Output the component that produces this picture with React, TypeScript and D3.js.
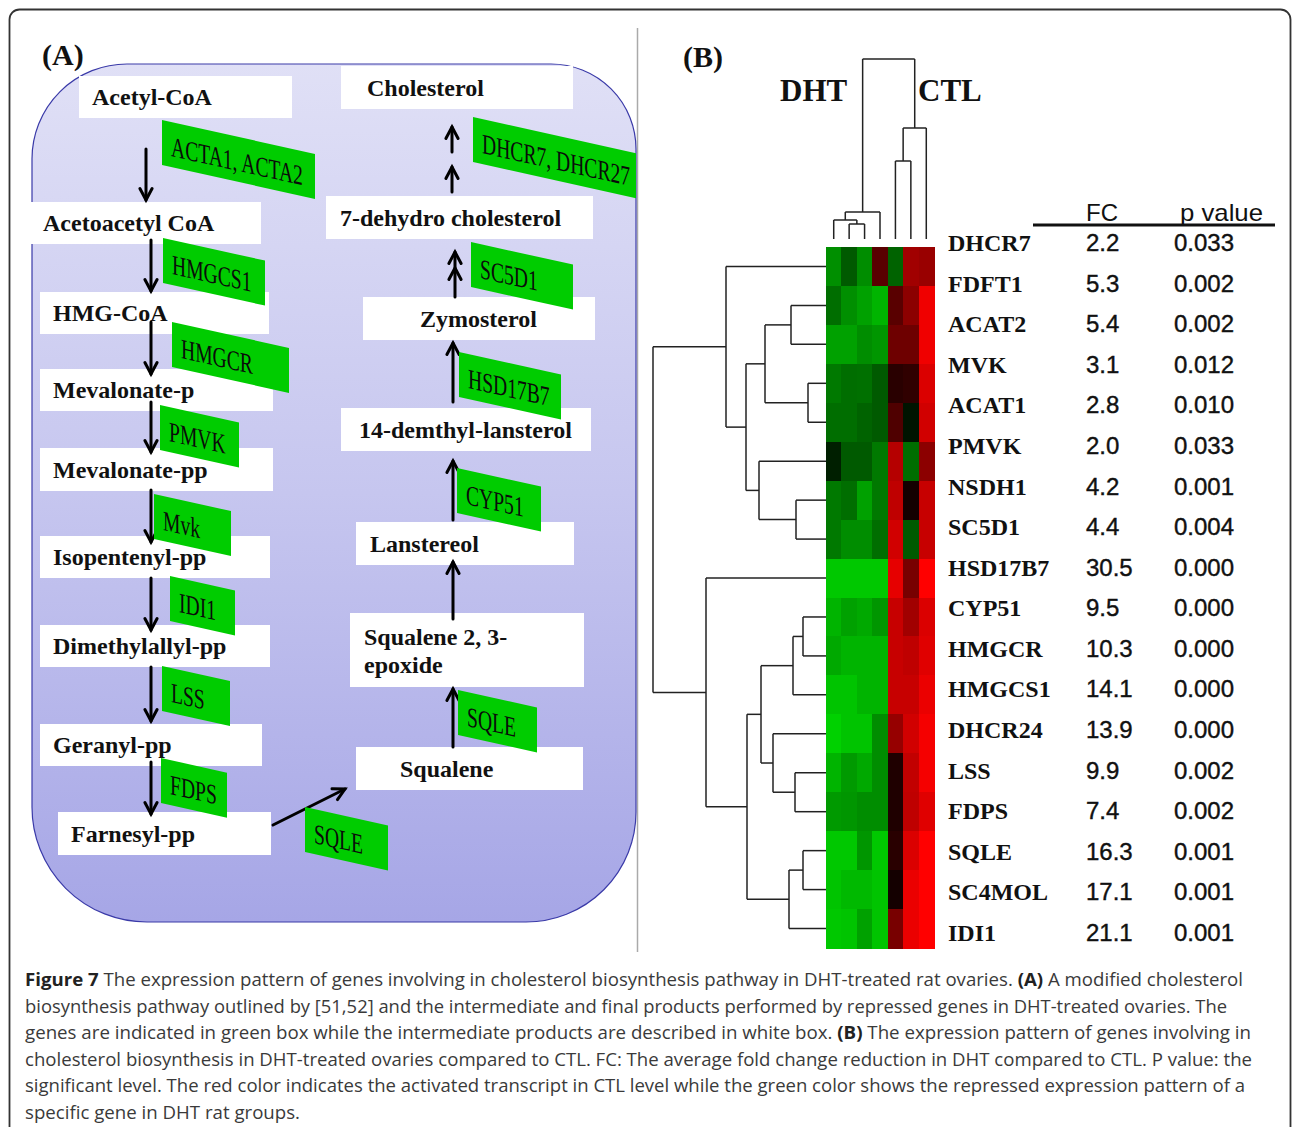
import React from "react";
import * as d3 from "d3";

// ---------- Panel B data ----------
const genes = [
  "DHCR7", "FDFT1", "ACAT2", "MVK", "ACAT1", "PMVK", "NSDH1", "SC5D1", "HSD17B7",
  "CYP51", "HMGCR", "HMGCS1", "DHCR24", "LSS", "FDPS", "SQLE", "SC4MOL", "IDI1",
];
const foldChange = [2.2, 5.3, 5.4, 3.1, 2.8, 2.0, 4.2, 4.4, 30.5, 9.5, 10.3, 14.1, 13.9, 9.9, 7.4, 16.3, 17.1, 21.1];
const pValues = [
  "0.033", "0.002", "0.002", "0.012", "0.010", "0.033", "0.001", "0.004", "0.000",
  "0.000", "0.000", "0.000", "0.000", "0.002", "0.002", "0.001", "0.001", "0.001",
];
const sampleGroups = ["DHT", "DHT", "DHT", "DHT", "CTL", "CTL", "CTL"];
// standardized expression per gene (rows) and sample (columns); negative = green, positive = red
const expression: number[][] = [
  [-0.65, -0.41, -0.64, 0.35, -0.45, 0.63, 0.6],
  [-0.5, -0.65, -0.73, -0.82, 0.35, 0.55, 0.94],
  [-0.73, -0.73, -0.64, -0.68, 0.43, 0.43, 0.94],
  [-0.55, -0.5, -0.51, -0.41, 0.16, 0.19, 0.86],
  [-0.5, -0.5, -0.45, -0.41, 0.31, -0.09, 0.82],
  [-0.14, -0.41, -0.41, -0.55, 0.71, -0.5, 0.55],
  [-0.55, -0.5, -0.73, -0.55, 0.75, 0.08, 0.78],
  [-0.55, -0.64, -0.64, -0.5, 0.82, -0.41, 0.78],
  [-0.91, -0.91, -0.91, -0.91, 0.9, 0.47, 1.0],
  [-0.82, -0.73, -0.77, -0.68, 0.78, 0.63, 0.86],
  [-0.77, -0.82, -0.82, -0.82, 0.78, 0.75, 0.88],
  [-0.89, -0.89, -0.82, -0.82, 0.78, 0.78, 0.92],
  [-0.95, -0.89, -0.89, -0.64, 0.59, 0.82, 0.96],
  [-0.82, -0.7, -0.77, -0.64, 0.12, 0.76, 0.96],
  [-0.7, -0.68, -0.64, -0.64, 0.12, 0.75, 0.88],
  [-0.91, -0.91, -0.68, -0.91, 0.16, 0.86, 1.0],
  [-0.89, -0.84, -0.84, -0.89, 0.08, 0.92, 1.0],
  [-0.91, -0.89, -0.73, -0.89, 0.47, 0.92, 1.0],
];

// hierarchical clustering: [height, left, right]; leaves are indices
type Tree = number | [number, Tree, Tree];
const rowTree: Tree = [173,
  [100, 0, [80, [61, [35, 1, 2], [18, 3, 4]], [67, 5, [30, 6, 7]]]],
  [120, 8, [79, [65, [33, [23, 9, 10], 11], [53, 12, [31, 13, 14]]], [37, [23, 15, 16], 17]]],
];
const colTree: Tree = [180, [27, [19, 0, [15, 1, 2]], 3], [111, [78, 4, 5], 6]];

// ---------- Panel A data ----------
const leftSteps = [
  "Acetyl-CoA", "Acetoacetyl CoA", "HMG-CoA", "Mevalonate-p", "Mevalonate-pp",
  "Isopentenyl-pp", "Dimethylallyl-pp", "Geranyl-pp", "Farnesyl-pp",
];
const rightSteps = [
  "Squalene", "Squalene 2, 3-|epoxide", "Lanstereol", "14-demthyl-lansterol",
  "Zymosterol", "7-dehydro cholesterol", "Cholesterol",
];
const enzymes = [
  "ACTA1, ACTA2", "HMGCS1", "HMGCR", "PMVK", "Mvk", "IDI1", "LSS", "FDPS",
  "SQLE", "SQLE", "CYP51", "HSD17B7", "SC5D1", "DHCR7, DHCR27",
];

const captionLines: { parts: [string, boolean][]; len: number }[] = [
  { parts: [["Figure 7", true], [" The expression pattern of genes involving in cholesterol biosynthesis pathway in DHT-treated rat ovaries. ", false], ["(A)", true], [" A modified cholesterol", false]], len: 1218 },
  { parts: [["biosynthesis pathway outlined by [51,52] and the intermediate and final products performed by repressed genes in DHT-treated ovaries. The", false]], len: 1202 },
  { parts: [["genes are indicated in green box while the intermediate products are described in white box. ", false], ["(B)", true], [" The expression pattern of genes involving in", false]], len: 1226 },
  { parts: [["cholesterol biosynthesis in DHT-treated ovaries compared to CTL. FC: The average fold change reduction in DHT compared to CTL. P value: the", false]], len: 1227 },
  { parts: [["significant level. The red color indicates the activated transcript in CTL level while the green color shows the repressed expression pattern of a", false]], len: 1220 },
  { parts: [["specific gene in DHT rat groups.", false]], len: 275 },
];

// ---------- layout ----------
const SERIF = "'Liberation Serif', 'Times New Roman', serif";
const SANS = "'Liberation Sans', Arial, sans-serif";

const leftBoxes = [
  { x: 79, y: 76, w: 213, h: 42, tx: 92 },
  { x: 30, y: 202, w: 231, h: 42, tx: 43 },
  { x: 40, y: 292, w: 229, h: 42, tx: 53 },
  { x: 40, y: 369, w: 233, h: 42, tx: 53 },
  { x: 40, y: 448, w: 233, h: 43, tx: 53 },
  { x: 40, y: 536, w: 230, h: 42, tx: 53 },
  { x: 40, y: 625, w: 230, h: 42, tx: 53 },
  { x: 40, y: 724, w: 222, h: 42, tx: 53 },
  { x: 58, y: 812, w: 213, h: 43, tx: 71 },
];
const rightBoxes = [
  { x: 356, y: 747, w: 227, h: 43, tx: 400 },
  { x: 350, y: 613, w: 234, h: 74, tx: 364 },
  { x: 356, y: 522, w: 218, h: 43, tx: 370 },
  { x: 341, y: 408, w: 250, h: 43, tx: 359 },
  { x: 363, y: 297, w: 232, h: 43, tx: 420 },
  { x: 326, y: 196, w: 267, h: 43, tx: 340 },
  { x: 341, y: 66, w: 232, h: 43, tx: 367 },
];
const enzymeTags = [
  { x: 162, y: 120, w: 153 },
  { x: 163, y: 238, w: 102 },
  { x: 172, y: 322, w: 117 },
  { x: 160, y: 405, w: 79 },
  { x: 154, y: 494, w: 77 },
  { x: 170, y: 576, w: 65 },
  { x: 162, y: 666, w: 68 },
  { x: 161, y: 758, w: 66 },
  { x: 305, y: 807, w: 83 },
  { x: 458, y: 690, w: 79 },
  { x: 457, y: 468, w: 84 },
  { x: 459, y: 352, w: 102 },
  { x: 471, y: 242, w: 102 },
  { x: 473, y: 117, w: 163 },
];
const arrows: { x1: number; y1: number; x2: number; y2: number; heads: number[] }[] = [
  { x1: 146, y1: 149, x2: 146, y2: 200, heads: [0] },
  { x1: 151, y1: 240, x2: 151, y2: 291, heads: [0] },
  { x1: 151, y1: 322, x2: 151, y2: 374, heads: [0] },
  { x1: 151, y1: 402, x2: 151, y2: 452, heads: [0] },
  { x1: 151, y1: 490, x2: 151, y2: 542, heads: [0] },
  { x1: 151, y1: 578, x2: 151, y2: 630, heads: [0] },
  { x1: 151, y1: 667, x2: 151, y2: 721, heads: [0] },
  { x1: 151, y1: 762, x2: 151, y2: 814, heads: [0] },
  { x1: 273, y1: 825, x2: 345, y2: 789, heads: [0] },
  { x1: 453, y1: 747, x2: 453, y2: 689, heads: [0] },
  { x1: 453, y1: 619, x2: 453, y2: 562, heads: [0] },
  { x1: 453, y1: 520, x2: 453, y2: 461, heads: [0] },
  { x1: 453, y1: 402, x2: 453, y2: 343, heads: [0] },
  { x1: 455, y1: 297, x2: 455, y2: 252, heads: [0, 16] },
  { x1: 452, y1: 192, x2: 452, y2: 167, heads: [0] },
  { x1: 452, y1: 152, x2: 452, y2: 127, heads: [0] },
];

function Arrow({ x1, y1, x2, y2, heads }: { x1: number; y1: number; x2: number; y2: number; heads: number[] }) {
  const a = Math.atan2(y2 - y1, x2 - x1);
  const L = 13;
  const t = (28 * Math.PI) / 180;
  return (
    <g stroke="#000" strokeWidth={3} fill="none" strokeLinecap="round">
      <line x1={x1} y1={y1} x2={x2} y2={y2} />
      {heads.map((back, i) => {
        const px = x2 - back * Math.cos(a);
        const py = y2 - back * Math.sin(a);
        return (
          <path
            key={i}
            d={`M${px - L * Math.cos(a - t)},${py - L * Math.sin(a - t)} L${px},${py} L${px - L * Math.cos(a + t)},${py - L * Math.sin(a + t)}`}
          />
        );
      })}
    </g>
  );
}

type Seg = [number, number, number, number]; // h1, p1, h2, p2
function dendro(node: Tree, segs: Seg[], pos: (i: number) => number): { p: number; h: number } {
  if (typeof node === "number") return { p: pos(node), h: 0 };
  const [h, l, r] = node;
  const a = dendro(l, segs, pos);
  const b = dendro(r, segs, pos);
  segs.push([a.h, a.p, h, a.p], [b.h, b.p, h, b.p], [h, a.p, h, b.p]);
  return { p: (a.p + b.p) / 2, h };
}

export default function App() {
  const W = 1292, H = 1127;

  // heatmap scales
  const xCol = d3.scaleBand<number>().domain(d3.range(sampleGroups.length)).range([826, 934]);
  const yRow = d3.scaleBand<number>().domain(d3.range(genes.length)).range([247, 948]);
  const color = d3.scaleLinear<string>().domain([-1, 0, 1]).range(["#00dc00", "#000000", "#ff0000"]);
  const yLabel = d3.scalePoint<string>().domain(genes).range([251, 941]);
  const rowH = d3.scaleLinear().domain([0, 173]).range([826, 653]);
  const colH = d3.scaleLinear().domain([0, 180]).range([239, 59]);

  const rowSegs: Seg[] = [];
  dendro(rowTree, rowSegs, (i) => (yRow(i) as number) + yRow.bandwidth() / 2);
  const colSegs: Seg[] = [];
  dendro(colTree, colSegs, (i) => (xCol(i) as number) + xCol.bandwidth() / 2);

  // panel A rounded outline
  const px0 = 32, px1 = 636, py0 = 64, py1 = 922;
  const rTL = 95, rTR = 85, rBR = 110, rBL = 115;
  const panelPath =
    `M${px0 + rTL},${py0} L${px1 - rTR},${py0} A${rTR},${rTR} 0 0 1 ${px1},${py0 + rTR} ` +
    `L${px1},${py1 - rBR} A${rBR},${rBR} 0 0 1 ${px1 - rBR},${py1} L${px0 + rBL},${py1} ` +
    `A${rBL},${rBL} 0 0 1 ${px0},${py1 - rBL} L${px0},${py0 + rTL} A${rTL},${rTL} 0 0 1 ${px0 + rTL},${py0} Z`;

  const boxText = (label: string, b: { x: number; y: number; w: number; h: number; tx: number }, key: string) => {
    const lines = label.split("|");
    return (
      <g key={key}>
        <rect x={b.x} y={b.y} width={b.w} height={b.h} fill="#fff" />
        {lines.map((ln, i) => (
          <text
            key={i}
            x={b.tx}
            y={lines.length === 1 ? b.y + b.h / 2 + 8 : b.y + 32 + i * 28}
            fontFamily={SERIF}
            fontWeight="bold"
            fontSize={24}
            fill="#111"
          >
            {ln}
          </text>
        ))}
      </g>
    );
  };

  return (
    <svg width={W} height={H} style={{ position: "absolute", left: 0, top: 0, background: "#fff" }}>
      <defs>
        <linearGradient id="panelFill" x1="0" y1="0" x2="0" y2="1">
          <stop offset="0" stopColor="#e0e0f6" />
          <stop offset="0.5" stopColor="#c6c6ef" />
          <stop offset="1" stopColor="#a6a6e6" />
        </linearGradient>
      </defs>
      <rect x={0} y={0} width={W} height={H} fill="#fff" />
      <rect x={9.5} y={9.5} width={1281} height={1200} rx={10} fill="none" stroke="#333" strokeWidth={1.8} />
      <line x1={637.5} y1={28} x2={637.5} y2={952} stroke="#aaa" strokeWidth={1.5} />

      {/* ---------- Panel A ---------- */}
      <text x={42} y={65} fontFamily={SERIF} fontWeight="bold" fontSize={30} fill="#111">(A)</text>
      <path d={panelPath} fill="url(#panelFill)" stroke="#3a3aa8" strokeWidth={1.2} />
      {leftSteps.map((s, i) => boxText(s, leftBoxes[i], `l${i}`))}
      {rightSteps.map((s, i) => boxText(s, rightBoxes[i], `r${i}`))}
      {arrows.map((a, i) => (
        <Arrow key={i} {...a} />
      ))}
      {enzymes.map((e, i) => {
        const t = enzymeTags[i];
        return (
          <g key={i} transform={`translate(${t.x},${t.y}) skewY(12.5)`}>
            <rect width={t.w} height={45} fill="#00cc00" />
            <text
              transform="translate(9,34) scale(0.7,1)"
              fontFamily={SERIF}
              fontSize={28}
              fill="#0a0a0a"
            >
              {e}
            </text>
          </g>
        );
      })}

      {/* ---------- Panel B ---------- */}
      <text x={683} y={67} fontFamily={SERIF} fontWeight="bold" fontSize={30} fill="#111">(B)</text>
      <text x={780} y={101} fontFamily={SERIF} fontWeight="bold" fontSize={31} fill="#111">DHT</text>
      <text x={918} y={101} fontFamily={SERIF} fontWeight="bold" fontSize={31} fill="#111">CTL</text>

      <g stroke="#222" strokeWidth={1.5} fill="none">
        {colSegs.map(([h1, p1, h2, p2], i) => (
          <line key={i} x1={p1} y1={colH(h1)} x2={p2} y2={colH(h2)} />
        ))}
        {rowSegs.map(([h1, p1, h2, p2], i) => (
          <line key={i} x1={rowH(h1)} y1={p1} x2={rowH(h2)} y2={p2} />
        ))}
      </g>

      <g shapeRendering="crispEdges">
        {expression.map((row, r) =>
          row.map((v, c) => (
            <rect
              key={`${r}-${c}`}
              x={xCol(c)}
              y={yRow(r)}
              width={xCol.bandwidth() + 0.5}
              height={yRow.bandwidth() + 0.5}
              fill={color(v)}
            />
          ))
        )}
      </g>

      <text x={1086} y={221} fontFamily={SANS} fontSize={24} fill="#111">FC</text>
      <text x={1180} y={221} fontFamily={SANS} fontSize={24} fill="#111" textLength={83} lengthAdjust="spacingAndGlyphs">p value</text>
      <line x1={1033} y1={225} x2={1275} y2={225} stroke="#111" strokeWidth={3} />
      {genes.map((g, i) => (
        <g key={g}>
          <text x={948} y={yLabel(g)} fontFamily={SERIF} fontWeight="bold" fontSize={24} fill="#111">{g}</text>
          <text x={1086} y={yLabel(g)} fontFamily={SANS} fontSize={24} fill="#111" stroke="#111" strokeWidth={0.4}>{foldChange[i].toFixed(1)}</text>
          <text x={1174} y={yLabel(g)} fontFamily={SANS} fontSize={24} fill="#111" stroke="#111" strokeWidth={0.4}>{pValues[i]}</text>
        </g>
      ))}

      {/* ---------- Caption ---------- */}
      {captionLines.map((ln, i) => (
        <text
          key={i}
          x={25}
          y={986 + i * 26.5}
          fontFamily="'Open Sans', sans-serif"
          fontSize={18.5}
          fill="#3a3a3a"
          textLength={ln.len}
          lengthAdjust="spacingAndGlyphs"
        >
          {ln.parts.map(([s, b], j) => (
            <tspan key={j} fontWeight={b ? "bold" : "normal"} fill={b ? "#222" : "#3a3a3a"}>
              {s}
            </tspan>
          ))}
        </text>
      ))}
    </svg>
  );
}
